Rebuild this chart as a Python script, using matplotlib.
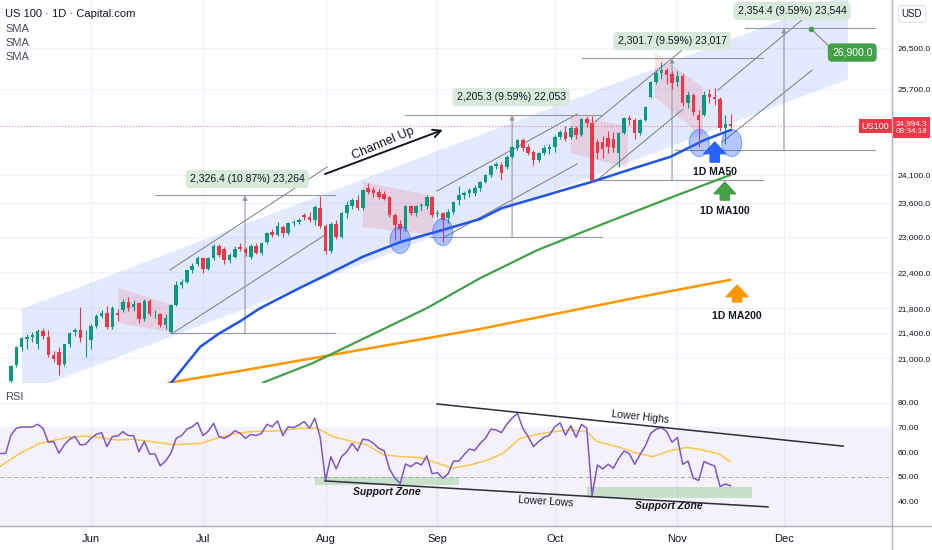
import numpy as np
import matplotlib
matplotlib.use('Agg')
import matplotlib.pyplot as plt
import matplotlib.transforms as mtransforms
from matplotlib.patches import Polygon, Ellipse
from matplotlib.lines import Line2D
from matplotlib.ticker import NullLocator

plt.rcParams['font.family'] = ['Liberation Sans', 'DejaVu Sans']

# daily candles, bar 0 = 12 May 2025 (every weekday, CFD)
opens = [20650, 20890, 21170, 21310, 21330, 21220, 21430, 21340, 21050, 21100, 20910, 21220, 21420, 21440, 21330,
         21280, 21520, 21680, 21730, 21490, 21720, 21780, 21900, 21820, 21880, 21620, 21920, 21700, 21700, 21530,
         21420, 21860, 22180, 22240, 22430, 22530,
         22630, 22460, 22630, 22840, 22800, 22610, 22660, 22820, 22800, 22660, 22840, 22720, 22910, 23080, 23030,
         23170, 23060, 23235, 23260, 23380, 23350, 23290, 23500,
         23180, 22750, 23230, 23000, 23410, 23530, 23640, 23500, 23850, 23820, 23780, 23760, 23700, 23380, 23230,
         23140, 23530, 23410, 23530, 23540, 23700,
         23390, 23410, 23320, 23440, 23640, 23730, 23765, 23770, 23850, 23970, 24090, 24250, 24280, 24240, 24420,
         24580, 24730, 24600, 24510, 24370, 24490, 24560,
         24610, 24790, 24880, 24790, 24950, 24820, 25130, 25050, 24700, 24700, 24770, 24750, 24490, 24860, 25140,
         25100, 24860, 25110, 25550, 25840, 26010, 26060, 25980,
         25830, 25950, 25420, 25580, 25200, 25210, 25600, 25550, 25500, 24960, 25030]
highs = [20900, 21200, 21340, 21380, 21420, 21460, 21480, 21440, 21110, 21180, 21230, 21420, 21480, 21820, 21450,
         21540, 21700, 21780, 21830, 21830, 21790, 21950, 21990, 21940, 21900, 21960, 21950, 21780, 21730, 21700,
         21870, 22250, 22290, 22460, 22560, 22680,
         22650, 22660, 22880, 22870, 22830, 22720, 22850, 22900, 22830, 22870, 22900, 22920, 23090, 23140, 23250,
         23200, 23260, 23300, 23330, 23420, 23440, 23560, 23710,
         23230, 23250, 23290, 23430, 23620, 23680, 23730, 23840, 23940, 23870, 23840, 23800, 23720, 23420, 23290,
         23560, 23560, 23560, 23600, 23740, 23720,
         23460, 23430, 23480, 23630, 23900, 23800, 23860, 23920, 23990, 24110, 24270, 24320, 24330, 24460, 24630,
         24750, 24770, 24650, 24540, 24510, 24640, 24650,
         24820, 24920, 24990, 24990, 25000, 25150, 25190, 25180, 24760, 24800, 24900, 24880, 24880, 25170, 25200,
         25150, 25130, 25380, 25860, 26060, 26230, 26100, 26050,
         26050, 25980, 25650, 25620, 25300, 25650, 25700, 25710, 25540, 25200, 25220]
lows = [20580, 20860, 21120, 21150, 21260, 21150, 21300, 21020, 20940, 20730, 20880, 21180, 21350, 21250, 21020,
        21150, 21480, 21640, 21470, 21470, 21600, 21740, 21760, 21760, 21560, 21600, 21680, 21640, 21500, 21460,
        21400, 21840, 22130, 22220, 22380, 22500,
        22380, 22440, 22610, 22660, 22540, 22560, 22640, 22750, 22680, 22620, 22700, 22690, 22880, 23000, 23010,
        22990, 23040, 23180, 23220, 23300, 23260, 23200, 23150,
        22700, 22720, 22960, 22980, 23330, 23480, 23460, 23470, 23760, 23700, 23660, 23640, 23340, 22950, 22940,
        23100, 23380, 23360, 23450, 23480, 23340,
        23340, 22920, 23240, 23390, 23550, 23660, 23700, 23720, 23800, 23940, 24060, 24200, 24000, 24200, 24400,
        24550, 24530, 24450, 24280, 24320, 24450, 24470,
        24520, 24750, 24720, 24760, 24760, 24800, 24980, 23960, 24380, 24400, 24500, 24520, 24240, 24840, 25020,
        24760, 24830, 25090, 25520, 25800, 25900, 25800, 25700,
        25750, 25380, 25330, 25200, 24610, 25180, 25420, 25400, 24900, 24650, 24960]
closes = [20880, 21170, 21320, 21330, 21360, 21430, 21350, 21050, 20990, 20900, 21220, 21400, 21440, 21320, 21330,
          21520, 21680, 21730, 21490, 21800, 21690, 21910, 21800, 21870, 21620, 21920, 21700, 21710, 21530, 21650,
          21850, 22180, 22240, 22430, 22500, 22630,
          22460, 22630, 22840, 22690, 22610, 22690, 22800, 22800, 22730, 22840, 22730, 22890, 23060, 23030, 23180,
          23060, 23235, 23260, 23300, 23345, 23285, 23527, 23180,
          22750, 23230, 23000, 23410, 23550, 23640, 23500, 23830, 23790, 23770, 23700, 23670, 23380, 23200, 23140,
          23530, 23410, 23530, 23560, 23700, 23380,
          23410, 23300, 23440, 23610, 23730, 23765, 23820, 23850, 23970, 24090, 24250, 24300, 24130, 24420, 24600,
          24730, 24580, 24490, 24370, 24490, 24580, 24610,
          24790, 24880, 24760, 24950, 24820, 25130, 25050, 24000, 24500, 24560, 24610, 24580, 24860, 25140, 25100,
          24860, 25110, 25360, 25840, 26010, 26060, 25970, 25810,
          25950, 25420, 25580, 25260, 25100, 25590, 25540, 25500, 24960, 25030, 24994.3]
last_price = 24994.3

month_pos = [15, 36, 59, 80, 102, 125, 145]
month_names = ['Jun', 'Jul', 'Aug', 'Sep', 'Oct', 'Nov', 'Dec']
price_ticks = [21000, 21400, 21800, 22400, 23000, 23600, 24100, 25700, 26500]

# moving averages (bar, price)
ma50_x = [29, 30, 35.5, 39, 43, 46.7, 53.6, 60, 66, 73, 81, 88, 92, 98.6, 105, 109, 117, 123.6, 130, 135]
ma50_y = [20500, 20610, 21180, 21390, 21590, 21800, 22110, 22390, 22660, 22910, 23120, 23310, 23500, 23680,
          23860, 23970, 24220, 24420, 24730, 24920]
ma100_x = [46.5, 47.3, 56.6, 78.0, 88.0, 98.7, 111.0, 123.6, 134.9]
ma100_y = [20500, 20619, 20922, 21802, 22298, 22771, 23223, 23681, 24092]
ma200_x = [29, 29.8, 43, 58, 73, 88, 103, 118, 134.9]
ma200_y = [20580, 20619, 20800, 21019, 21241, 21465, 21725, 21987, 22270]

# RSI, bar -2 .. 135
rsi = [59.4, 59.4,
       66.9, 69.7, 70.2, 70.2, 70.2, 71.3, 69.7, 64.0, 64.3, 59.5, 62.9, 65.2, 66.3, 62.9, 63.1,
       65.6, 67.2, 67.9, 62.2, 66.3, 66.5, 68.3, 66.7, 66.7, 60.1, 64.3, 59.2, 59.2, 54.4, 56.3,
       59.5, 65.6, 66.7, 69.3, 70.3, 72.1,
       66.7, 68.5, 71.7, 66.3, 65.6, 66.7, 68.7, 67.6, 65.6, 67.2, 66.7, 67.6, 71.3, 70.3, 72.7,
       66.7, 70.3, 70.0, 71.0, 72.4, 69.7, 73.8, 66.0,
       48.4, 58.1, 53.1, 58.1, 60.1, 63.5, 60.5, 65.2, 64.9, 63.5, 61.5, 60.5, 53.1, 49.3, 47.2,
       55.1, 54.0, 55.7, 54.7, 58.4, 51.1,
       51.6, 49.3, 51.1, 56.3, 56.3, 58.9, 61.2, 60.6, 63.5, 65.6, 69.3, 69.0, 67.9, 71.3, 73.8,
       75.8, 69.7, 66.3, 62.2, 64.3, 66.0, 66.9,
       70.3, 71.9, 66.9, 70.7, 66.0, 71.3, 69.7, 42.2, 54.7, 53.1, 55.0, 53.4, 57.4, 60.4, 59.3,
       55.0, 58.9, 62.5, 67.6, 69.3, 70.0, 68.3, 64.0,
       65.9, 55.0, 56.3, 49.3, 48.4, 56.1, 55.1, 54.3, 45.9, 46.9, 46.2]
rsi_ma_x = [-2.1, 1.7, 5.4, 10.5, 13.5, 16.7, 19.9, 22.9, 26.1, 30.4, 35.5, 38.6, 41.6, 44.8, 51, 54.2, 57.4,
            60.4, 63.6, 66.8, 69.8, 72.9, 76.7, 79.9, 82.9, 86.1, 89.3, 92.3, 95.5, 98.7, 101.7, 104.9,
            108, 109.9, 114.2, 117.4, 120.4, 123.6, 126.8, 129.8, 133, 134.9]
rsi_ma_y = [54.0, 59.5, 63.5, 65.9, 66.5, 65.9, 64.9, 65.2, 64.3, 63.0, 63.5, 65.6, 67.4, 68.3, 68.7, 69.7,
            69.7, 66.3, 64.5, 62.9, 58.9, 58.2, 57.7, 55.5, 53.4, 54.7, 56.6, 59.5, 65.6, 67.2, 68.3, 69.0,
            68.3, 64.3, 61.9, 59.5, 58.1, 60.5, 61.9, 60.8, 59.1, 56.0]

# price-range measurements: top line start/end, bottom line start, arrow bar, low, high, label, label pos
measures = [
    (27.0, 60.8, 29.8, 43.9, 21402, 23728, '2,326.4 (10.87%) 23,264', 44.3, 24020),
    (73.9, 110.9, 78.6, 94.0, 22996, 25201, '2,205.3 (9.59%) 22,053', 93.8, 25543),
    (107.1, 141.1, 108.6, 124.0, 24001, 26303, '2,301.7 (9.59%) 23,017', 124.0, 26640),
    (137.7, 162.1, 124.6, 145.0, 24551, 26905, '2,354.4 (9.59%) 23,544', 146.5, 27245),
]
# channel legs: upper start, upper end, lower start, lower end
legs = [
    ((29.8, 22435), (59.3, 24237), (30.4, 21399), (58.9, 23032)),
    ((79.9, 23805), (106.2, 25220), (81.0, 22981), (106.2, 24293)),
    ((109.5, 25069), (126.1, 26480), (109.5, 23966), (126.1, 25315)),
    ((132.6, 25678), (149.5, 27165), (133.4, 24695), (150.3, 26066)),
]
channel = [(2.06, 21790), (157, 27575), (157, 25890), (2.06, 20450)]
flags = [
    [(20.1, 22133), (30.4, 21851), (30.4, 21404), (20.1, 21560)],
    [(66.0, 23967), (79.3, 23715), (79.3, 23032), (66.0, 23169)],
    [(105.0, 25201), (115.7, 24992), (115.7, 24218), (105.0, 24494)],
    [(120.8, 26400), (129.8, 25737), (129.8, 24790), (120.8, 25540)],
]
touches = [(73, 22946), (81, 23084), (129.1, 24677), (135.2, 24677)]

GREEN = '#089981'
RED = '#f23645'
TXT = '#131722'
GRID = '#f0f3fa'

fig = plt.figure(figsize=(9.32, 5.5), dpi=100)
W, H = 932, 550
ax = fig.add_axes([0, 167 / H, 892 / W, 383 / H])
ax2 = fig.add_axes([0, 24 / H, 892 / W, 143 / H], sharex=ax)

ax.set_yscale('log')
ax.set_xlim(-2.06, 165.26)
ax.set_ylim(20612, 27472)

for a in (ax, ax2):
    for s in ('top', 'left'):
        a.spines[s].set_visible(False)
    a.spines['right'].set_color('#b2b5be')
    for m in month_pos:
        a.axvline(m, color=GRID, lw=1, zorder=0)
ax.spines['bottom'].set_color('#d1d4dc')
ax2.spines['bottom'].set_color('#b2b5be')

# main channel & shaded zones
ax.add_patch(Polygon(channel, closed=True, fc='#2962ff', alpha=0.13, ec='none', zorder=1))
for f in flags:
    ax.add_patch(Polygon(f, closed=True, fc=RED, alpha=0.15, ec='none', zorder=1))

for t in price_ticks:
    ax.axhline(t, color=GRID, lw=1, zorder=0)

# moving averages
ax.plot(ma200_x, ma200_y, color='#ff9800', lw=1.8, zorder=3)
ax.plot(ma100_x, ma100_y, color='#43a047', lw=1.6, zorder=3)
ax.plot(ma50_x, ma50_y, color='#2154e8', lw=1.8, zorder=3)

# candles
bars = np.arange(len(closes))
for i in bars:
    o, h, l, c = opens[i], highs[i], lows[i], closes[i]
    col = GREEN if c >= o else RED
    ax.vlines(i, l, h, color=col, lw=0.8, zorder=4)
    lo, hi = min(o, c), max(o, c)
    ax.bar(i, max(hi - lo, 10), bottom=lo, width=0.66, color=col, lw=0, zorder=5)

# channel legs
for u0, u1, l0, l1 in legs:
    ax.plot([u0[0], u1[0]], [u0[1], u1[1]], color='#787b86', lw=0.7, zorder=2)
    ax.plot([l0[0], l1[0]], [l0[1], l1[1]], color='#787b86', lw=0.7, zorder=2)

# measurement tools
for t0, t1, b0, xa, plo, phi, lab, lx, ly in measures:
    ax.plot([t0, t1], [phi, phi], color='#9598a1', lw=0.8, zorder=2)
    ax.plot([b0, t1], [plo, plo], color='#9598a1', lw=0.8, zorder=2)
    ax.annotate('', xy=(xa, phi), xytext=(xa, plo),
                arrowprops=dict(arrowstyle='-|>', color='#9598a1', lw=0.8, mutation_scale=7,
                                shrinkA=0, shrinkB=0), zorder=2)
    ax.text(lx, ly, lab, ha='center', va='center', fontsize=7.5, color=TXT, zorder=8,
            bbox=dict(boxstyle='round,pad=0.4', fc='#d7eadc', ec='none'))

# target
ax.plot([150.1], [26880], 'o', color='#43a047', ms=3, zorder=8)
ax.plot([150.1, 154.0], [26880, 26480], color='#787b86', lw=0.7, zorder=7)
ax.text(157.8, 26410, '26,900.0', ha='center', va='center', fontsize=7.5, color='white', zorder=8,
        bbox=dict(boxstyle='round,pad=0.4', fc='#43a047', ec='none'))

# touches on MA50
for cx, cy in touches:
    tr = fig.dpi_scale_trans + mtransforms.ScaledTranslation(cx, cy, ax.transData)
    ax.add_patch(Ellipse((0, 0), 0.2, 0.27, transform=tr, fc=(0.16, 0.38, 1, 0.35),
                         ec=(0.16, 0.38, 1, 0.5), lw=0.8, zorder=6))

# MA arrows
for x, p0, p1, col, lab, ty in [(132.0, 24327, 24696, '#2962ff', '1D MA50', 24237),
                                 (133.9, 23643, 23965, '#43a047', '1D MA100', 23537),
                                 (136.2, 21903, 22184, '#ff9800', '1D MA200', 21757)]:
    ax.annotate('', xy=(x, p1), xytext=(x, p0),
                arrowprops=dict(arrowstyle='simple,head_length=0.7,head_width=1.3,tail_width=0.55',
                                fc=col, ec=col, mutation_scale=12, shrinkA=0, shrinkB=0), zorder=8)
    ax.text(x, ty, lab, ha='center', va='top', fontsize=7.5, fontweight='bold', color=TXT, zorder=8)

# channel up
ax.annotate('', xy=(81, 24921), xytext=(58.9, 24110),
            arrowprops=dict(arrowstyle='->', color=TXT, lw=1.4, mutation_scale=14, shrinkA=0, shrinkB=0),
            zorder=8)
ax.text(69.8, 24677, 'Channel Up', rotation=23, ha='center', va='center', fontsize=9, color=TXT, zorder=8)

# last price
ax.axhline(last_price, color=RED, lw=0.8, ls=':', alpha=0.6, zorder=2)
blend = mtransforms.blended_transform_factory(ax.transAxes, ax.transData)
ax.text(0.997, last_price, 'US100', transform=blend, ha='right', va='center', fontsize=6.5,
        color='white', zorder=9, bbox=dict(fc=RED, ec='none', pad=1.8))
ax.annotate('24,994.3\n08:34:18', xy=(1.0, last_price), xycoords=blend, xytext=(2.5, 4),
            textcoords='offset points', ha='left', va='top', fontsize=5.9, color='white',
            linespacing=1.15, annotation_clip=False, zorder=9,
            bbox=dict(fc=RED, ec='none', pad=2.2))

ax.yaxis.tick_right()
ax.yaxis.set_minor_locator(NullLocator())
ax.set_yticks(price_ticks)
ax.set_yticklabels([f'{t:,.1f}' for t in price_ticks])
ax.tick_params(axis='y', length=0, pad=4, labelsize=6.1, labelcolor=TXT)
ax.tick_params(axis='x', length=0, labelbottom=False)

ax.text(0.006, 0.963, 'US 100 · 1D · Capital.com', transform=ax.transAxes, fontsize=8, color=TXT,
        va='center')
for k in range(3):
    ax.text(0.006, 0.925 - 0.037 * k, 'SMA', transform=ax.transAxes, fontsize=8, color='#4a4e59',
            va='center')
fig.text(912 / W, 1 - 14 / H, 'USD', ha='center', va='center', fontsize=7, color=TXT,
         bbox=dict(boxstyle='round,pad=0.35', fc='white', ec='#e0e3eb', lw=0.8))

# RSI panel
ax2.set_ylim(29.8, 88.16)
ax2.axhspan(30, 70, color='#7e57c2', alpha=0.08, lw=0, zorder=0)
for v in (80, 70, 60, 40):
    ax2.axhline(v, color=GRID, lw=1, zorder=0)
ax2.axhline(50, color='#787b86', lw=0.7, ls=(0, (4, 3)), alpha=0.6, zorder=1)

ax2.add_patch(Polygon([(57, 49.8), (84, 49.8), (84, 46.5), (57, 46.5)], fc='#81c784', alpha=0.4,
                      ec='none', zorder=1))
ax2.add_patch(Polygon([(108, 45.7), (139, 45.7), (139, 41.2), (108, 41.2)], fc='#81c784', alpha=0.4,
                      ec='none', zorder=1))

rsi_x = np.arange(-2, len(rsi) - 2)
ax2.plot(rsi_ma_x, rsi_ma_y, color='#f9c74f', lw=1.1, zorder=2)
ax2.plot(rsi_x, rsi, color='#7e57c2', lw=1.1, zorder=3)

ax2.plot([79.9, 156.1], [79.6, 62.4], color='#2a2e39', lw=1.1, zorder=4)
ax2.plot([58.9, 142.0], [48.2, 37.6], color='#2a2e39', lw=1.1, zorder=4)
ax2.text(118, 74.3, 'Lower Highs', rotation=-5.9, ha='center', va='center', fontsize=7.5, color=TXT)
ax2.text(100.4, 39.6, 'Lower Lows', rotation=-3.4, ha='center', va='center', fontsize=7.5, color=TXT)
ax2.text(70.5, 43.7, 'Support Zone', ha='center', va='center', fontsize=7.5, color=TXT,
         style='italic', fontweight='bold')
ax2.text(123.4, 38.0, 'Support Zone', ha='center', va='center', fontsize=7.5, color=TXT,
         style='italic', fontweight='bold')
ax2.text(0.006, 0.9, 'RSI', transform=ax2.transAxes, fontsize=8, color='#4a4e59', va='center')

ax2.yaxis.tick_right()
ax2.set_yticks([40, 50, 60, 70, 80])
ax2.set_yticklabels(['40.00', '50.00', '60.00', '70.00', '80.00'])
ax2.tick_params(axis='y', length=0, pad=4, labelsize=6.1, labelcolor=TXT)
ax2.set_xticks(month_pos)
ax2.set_xticklabels(month_names)
ax2.tick_params(axis='x', length=0, pad=6, labelsize=8, labelcolor=TXT)

fig.add_artist(Line2D([892 / W, 892 / W], [0, 1], transform=fig.transFigure, color='#b2b5be', lw=1))
fig.add_artist(Line2D([0, 1], [24 / H, 24 / H], transform=fig.transFigure, color='#b2b5be', lw=1))

fig.savefig('out.png', dpi=100)
